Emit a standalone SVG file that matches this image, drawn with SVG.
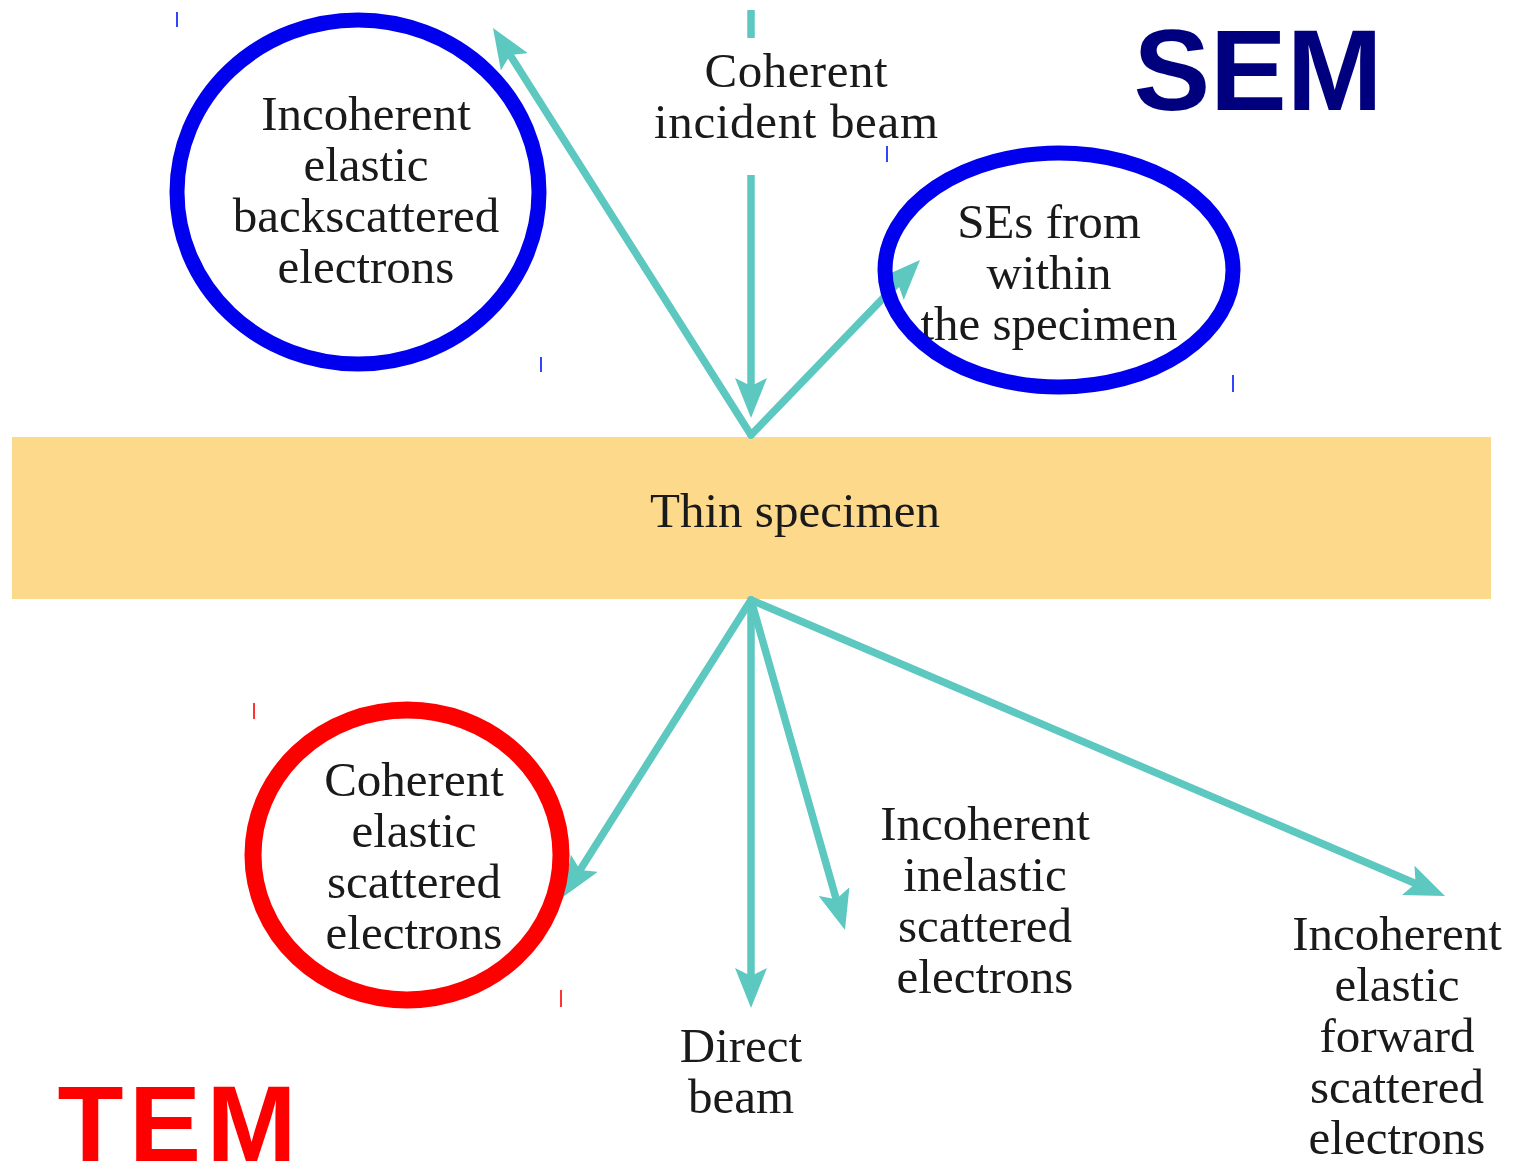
<svg xmlns="http://www.w3.org/2000/svg" width="1515" height="1166" viewBox="0 0 1515 1166">
<style>
.lbl{font-family:"Liberation Serif","Times New Roman",serif;font-size:49px;fill:#1a1a1a;text-anchor:middle}
.arr{stroke:#5cc8c0;stroke-width:7.5;fill:none;stroke-linecap:round}
.ring{fill:none}
.tk{stroke-width:2}
</style>
<defs>
<marker id="ah" viewBox="0 0 40 32" refX="20" refY="16" markerWidth="40" markerHeight="32" markerUnits="userSpaceOnUse" orient="auto">
<path d="M0,0 L40,16 L0,32 L8,16 Z" fill="#5cc8c0"/>
</marker>
</defs>
<rect width="1515" height="1166" fill="#ffffff"/>
<g id="specimen">
<rect x="12" y="437" width="1479" height="162" fill="#fdd98c"/>
<text class="lbl" x="795" y="527">Thin specimen</text>
</g>
<g id="connectors">
<line class="arr" x1="751" y1="10" x2="751" y2="38" style="stroke-linecap:butt"/>
<line class="arr" x1="751" y1="175" x2="751" y2="398" marker-end="url(#ah)" style="stroke-linecap:butt"/>
<line class="arr" x1="751" y1="435" x2="503.7" y2="44.9" marker-end="url(#ah)"/>
<line class="arr" x1="751" y1="435" x2="906.1" y2="274.4" marker-end="url(#ah)"/>
<line class="arr" x1="751" y1="600" x2="573.7" y2="880.1" marker-end="url(#ah)"/>
<line class="arr" x1="751" y1="600" x2="751" y2="988" marker-end="url(#ah)"/>
<line class="arr" x1="751" y1="600" x2="839.5" y2="910.8" marker-end="url(#ah)"/>
<line class="arr" x1="751" y1="600" x2="1426.6" y2="888.2" marker-end="url(#ah)"/>
</g>
<g id="incident">
<text class="lbl" x="796" y="87" textLength="183">Coherent</text>
<text class="lbl" x="796" y="138" textLength="284">incident beam</text>
</g>
<g id="backscattered">
<text class="lbl" x="366" y="130">Incoherent</text>
<text class="lbl" x="366" y="181">elastic</text>
<text class="lbl" x="366" y="232">backscattered</text>
<text class="lbl" x="366" y="283">electrons</text>
</g>
<g id="secondary">
<text class="lbl" x="1049" y="238">SEs from</text>
<text class="lbl" x="1049" y="289">within</text>
<text class="lbl" x="1049" y="340">the specimen</text>
</g>
<g id="coherent-scattered">
<text class="lbl" x="414" y="796">Coherent</text>
<text class="lbl" x="414" y="847">elastic</text>
<text class="lbl" x="414" y="898">scattered</text>
<text class="lbl" x="414" y="949">electrons</text>
</g>
<g id="inelastic">
<text class="lbl" x="985" y="840">Incoherent</text>
<text class="lbl" x="985" y="891">inelastic</text>
<text class="lbl" x="985" y="942">scattered</text>
<text class="lbl" x="985" y="993">electrons</text>
</g>
<g id="direct">
<text class="lbl" x="741" y="1062">Direct</text>
<text class="lbl" x="741" y="1113">beam</text>
</g>
<g id="forward">
<text class="lbl" x="1397" y="950">Incoherent</text>
<text class="lbl" x="1397" y="1001">elastic</text>
<text class="lbl" x="1397" y="1052">forward</text>
<text class="lbl" x="1397" y="1103">scattered</text>
<text class="lbl" x="1397" y="1154">electrons</text>
</g>
<g id="rings">
<ellipse class="ring" cx="358" cy="192" rx="181" ry="172" stroke="#0000ee" stroke-width="15"/>
<ellipse class="ring" cx="1059" cy="270" rx="174" ry="117" stroke="#0000ee" stroke-width="15"/>
<ellipse class="ring" cx="407" cy="855" rx="154" ry="145" stroke="#ff0000" stroke-width="17"/>
</g>
<g id="ticks">
<line class="tk" x1="177" y1="12" x2="177" y2="27" stroke="#3344ff"/>
<line class="tk" x1="887" y1="146" x2="887" y2="162" stroke="#3344ff"/>
<line class="tk" x1="541" y1="357" x2="541" y2="372" stroke="#3344ff"/>
<line class="tk" x1="1233" y1="375" x2="1233" y2="392" stroke="#3344ff"/>
<line class="tk" x1="254" y1="703" x2="254" y2="719" stroke="#ff3333"/>
<line class="tk" x1="561" y1="990" x2="561" y2="1007" stroke="#ff3333"/>
</g>
<g id="titles">
<text x="1258" y="110" font-family="Liberation Sans, Arial, sans-serif" font-weight="bold" font-size="115" fill="#00007f" text-anchor="middle">SEM</text>
<text x="177" y="1161" font-family="Liberation Sans, Arial, sans-serif" font-weight="bold" font-size="108" fill="#ff0000" text-anchor="middle" textLength="239">TEM</text>
</g>
</svg>
